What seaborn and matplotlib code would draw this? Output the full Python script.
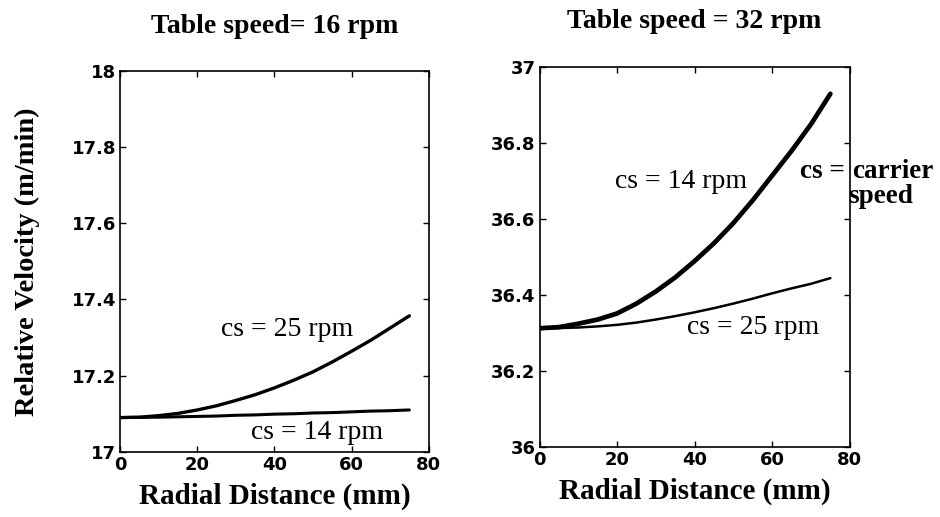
import numpy as np
import pandas as pd
import matplotlib
matplotlib.use("Agg")
import matplotlib.pyplot as plt
import seaborn as sns

# ---- data ----
radial_mm = [0, 5, 10, 15, 20, 25, 30, 35, 40, 45, 50, 55, 60, 65, 70, 75]

left_cs25 = [17.090, 17.091, 17.095, 17.101, 17.110, 17.121, 17.135, 17.150,
             17.168, 17.188, 17.210, 17.236, 17.264, 17.293, 17.325, 17.357]
left_cs14 = [17.090, 17.0905, 17.091, 17.092, 17.093, 17.094, 17.096, 17.097,
             17.099, 17.100, 17.102, 17.103, 17.105, 17.107, 17.108, 17.110]

right_cs14 = [36.313, 36.316, 36.325, 36.336, 36.352, 36.378, 36.410, 36.447,
              36.490, 36.537, 36.590, 36.650, 36.715, 36.780, 36.850, 36.930]
right_cs25 = [36.313, 36.3135, 36.315, 36.318, 36.322, 36.328, 36.336, 36.345,
              36.355, 36.366, 36.378, 36.391, 36.405, 36.418, 36.430, 36.445]

left_title = "Table speed= 16 rpm"
right_title = "Table speed = 32 rpm"
x_label = "Radial Distance (mm)"
y_label = "Relative Velocity (m/min)"

x_ticks = [0, 20, 40, 60, 80]
left_yticks = [17, 17.2, 17.4, 17.6, 17.8, 18]
left_yticklabels = ["17", "17.2", "17.4", "17.6", "17.8", "18"]
right_yticks = [36, 36.2, 36.4, 36.6, 36.8, 37]
right_yticklabels = ["36", "36.2", "36.4", "36.6", "36.8", "37"]

sns.set_style("ticks")
plt.rcParams["font.family"] = ["Liberation Serif", "DejaVu Serif"]
plt.rcParams["text.color"] = "black"
plt.rcParams["axes.labelcolor"] = "black"
plt.rcParams["xtick.color"] = "black"
plt.rcParams["ytick.color"] = "black"

fig = plt.figure(figsize=(9.4, 5.17), dpi=100)
axL = fig.add_axes([0.128, 0.126, 0.328, 0.737])
axR = fig.add_axes([0.574, 0.135, 0.330, 0.735])

n = len(radial_mm)
dfL = pd.DataFrame({"x": radial_mm * 2,
                    "v": left_cs25 + left_cs14,
                    "cs": ["25"] * n + ["14"] * n})
dfR = pd.DataFrame({"x": radial_mm * 2,
                    "v": right_cs14 + right_cs25,
                    "cs": ["14"] * n + ["25"] * n})

sns.lineplot(data=dfL, x="x", y="v", hue="cs", palette=["black", "black"],
             size="cs", sizes={"25": 2.4, "14": 2.2}, legend=False, ax=axL)
sns.lineplot(data=dfR, x="x", y="v", hue="cs", palette=["black", "black"],
             size="cs", sizes={"14": 3.4, "25": 1.8}, legend=False, ax=axR)

tick_font = dict(family="DejaVu Sans", weight="bold", size=13)

for ax, yt, ytl, title, pad in [(axL, left_yticks, left_yticklabels, left_title, 27),
                                (axR, right_yticks, right_yticklabels, right_title, 28)]:
    ax.set_xlim(0, 80)
    ax.set_ylim(yt[0], yt[-1])
    ax.set_xticks(x_ticks)
    ax.set_xticklabels([str(t) for t in x_ticks], fontdict=tick_font)
    ax.set_yticks(yt)
    ax.set_yticklabels(ytl, fontdict=tick_font)
    ax.tick_params(direction="in", length=4, width=1, top=True, right=True,
                   pad=3, colors="black")
    for s in ax.spines.values():
        s.set_visible(True)
        s.set_linewidth(1.2)
        s.set_color("black")
    ax.set_xlabel(x_label, fontsize=21, fontweight="bold", labelpad=6)
    ax.set_ylabel("")
    ax.set_title(title, fontsize=20, fontweight="bold", pad=pad)
    ax.grid(False)

axL.set_ylabel(y_label, fontsize=20.5, fontweight="bold")
axL.yaxis.set_label_coords(-0.26, 0.5)

ann = dict(fontsize=20, va="center", ha="left")
axL.text(26, 17.32, "cs = 25 rpm", **ann)
axL.text(34, 17.05, "cs = 14 rpm", **ann)
axR.text(19.4, 36.70, "cs = 14 rpm", **ann)
axR.text(37.9, 36.316, "cs = 25 rpm", **ann)

note = dict(fontsize=19.5, fontweight="bold", va="baseline", ha="left", clip_on=False)
axR.text(67.1, 36.708, "cs =", **note)
axR.text(80.5, 36.708, "carrier", **note)
axR.text(79.6, 36.642, "speed", **note)

fig.savefig("out.png", dpi=100, facecolor="white")
